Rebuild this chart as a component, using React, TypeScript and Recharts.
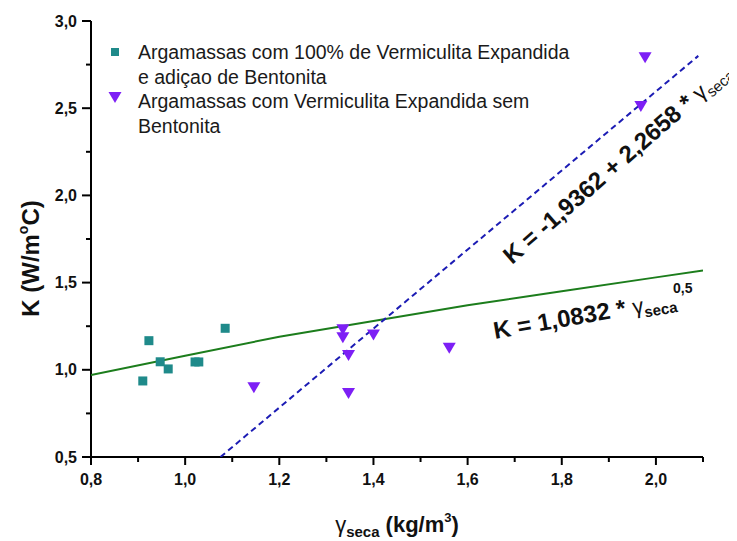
import React from 'react';
import { ScatterChart, Scatter, XAxis, YAxis, Legend } from 'recharts';

// measured points: dry density (kg/m3) vs thermal conductivity K (W/m°C)
const bentoniteX = [0.910, 0.923, 0.947, 0.964, 1.021, 1.029, 1.085];
const bentoniteK = [0.936, 1.167, 1.046, 1.005, 1.045, 1.045, 1.238];
const semX = [1.146, 1.335, 1.335, 1.347, 1.347, 1.400, 1.561, 1.968, 1.977];
const semK = [0.900, 1.232, 1.186, 1.085, 0.867, 1.202, 1.127, 2.513, 2.792];
// fitted curves
const powerFitX = [0.8, 1.0, 1.2, 1.4, 1.6, 1.8, 2.0, 2.1];
const powerFitK = [0.97, 1.08, 1.19, 1.28, 1.37, 1.45, 1.53, 1.57];
const linearFitX = [1.075, 2.09];
const linearFitK = [0.5, 2.8];
// axis ticks
const xTicks = [0.8, 0.9, 1.0, 1.1, 1.2, 1.3, 1.4, 1.5, 1.6, 1.7, 1.8, 1.9, 2.0, 2.1];
const xMajor = [0.8, 1.0, 1.2, 1.4, 1.6, 1.8, 2.0];
const yTicks = [0.5, 0.75, 1.0, 1.25, 1.5, 1.75, 2.0, 2.25, 2.5, 2.75, 3.0];
const yMajor = [0.5, 1.0, 1.5, 2.0, 2.5, 3.0];
const legendLines1 = ['Argamassas com 100% de Vermiculita Expandida', 'e adiçao de Bentonita'];
const legendLines2 = ['Argamassas com Vermiculita Expandida sem', 'Bentonita'];

const toData = (xs: number[], ks: number[]) => xs.map((x, i) => ({ x, k: ks[i] }));
const bentoniteData = toData(bentoniteX, bentoniteK);
const semData = toData(semX, semK);
const powerData = toData(powerFitX, powerFitK);
const linearData = toData(linearFitX, linearFitK);

const TEAL = '#1f8a8a';
const PURPLE = '#7d1ff5';
const GREEN = '#1c7d1c';
const BLUE = '#1c1cb4';
const FONT = '"Liberation Sans", Arial, sans-serif';
const TICKFONT = '"Liberation Sans Narrow", "Liberation Sans", Arial, sans-serif';

const isIn = (arr: number[], v: number) => arr.some((m) => Math.abs(m - v) < 1e-6);
const fmt = (v: number) => v.toFixed(1).replace('.', ',');

const XTick = (props: any) => {
  const { x, y, payload } = props;
  const v = payload.value;
  const major = isIn(xMajor, v);
  return (
    <g>
      <line x1={x} y1={y} x2={x} y2={y + (major ? 8 : 5)} stroke="#000" strokeWidth={2} />
      {major && (
        <text x={x} y={y + 28} textAnchor="middle" fontFamily={TICKFONT} fontWeight="bold" fontSize={16} fill="#111">
          {fmt(v)}
        </text>
      )}
    </g>
  );
};

const YTick = (props: any) => {
  const { x, y, payload } = props;
  const v = payload.value;
  const major = isIn(yMajor, v);
  return (
    <g>
      <line x1={x - (major ? 9 : 5)} y1={y} x2={x} y2={y} stroke="#000" strokeWidth={2} />
      {major && (
        <text x={x - 14} y={y + 5.5} textAnchor="end" fontFamily={TICKFONT} fontWeight="bold" fontSize={16} fill="#111">
          {fmt(v)}
        </text>
      )}
    </g>
  );
};

const SquareShape = (props: any) => {
  const { cx, cy } = props;
  return <rect x={cx - 4.5} y={cy - 4.5} width={9} height={9} fill={TEAL} />;
};

const TriangleShape = (props: any) => {
  const { cx, cy } = props;
  return <polygon points={`${cx - 6.5},${cy - 5} ${cx + 6.5},${cy - 5} ${cx},${cy + 6}`} fill={PURPLE} />;
};

const NoShape = () => <g />;

const LegendContent = () => (
  <div style={{ position: 'relative', width: 600, height: 110, fontFamily: FONT, fontSize: 19.5, color: '#1a1a1a' }}>
    <svg style={{ position: 'absolute', left: 0, top: 0 }} width={40} height={110}>
      <rect x={3} y={8} width={8} height={8} fill={TEAL} />
      <polygon points="0.5,52 13.5,52 7,63" fill={PURPLE} />
    </svg>
    <div style={{ position: 'absolute', left: 30, top: 0, lineHeight: '24.5px', whiteSpace: 'nowrap' }}>
      {legendLines1.map((t) => (
        <div key={t}>{t}</div>
      ))}
      {legendLines2.map((t) => (
        <div key={t}>{t}</div>
      ))}
    </div>
  </div>
);

export default function App() {
  return (
    <div style={{ width: 729, height: 533, position: 'relative' }}>
      <ScatterChart width={729} height={533} margin={{ top: 13, right: 34, bottom: 34, left: 23 }}>
        <XAxis
          type="number"
          dataKey="x"
          domain={[0.8, 2.1]}
          ticks={xTicks}
          interval={0}
          height={50}
          tickSize={0}
          tickMargin={0}
          tickLine={false}
          axisLine={{ stroke: '#000', strokeWidth: 2 }}
          tick={<XTick />}
          allowDataOverflow
        />
        <YAxis
          type="number"
          dataKey="k"
          domain={[0.5, 3.0]}
          ticks={yTicks}
          interval={0}
          width={60}
          tickSize={0}
          tickMargin={0}
          tickLine={false}
          axisLine={{ stroke: '#000', strokeWidth: 2 }}
          tick={<YTick />}
          allowDataOverflow
        />
        <Legend
          verticalAlign="middle"
          layout="horizontal"
          wrapperStyle={{ left: 100, top: 32, width: 600, height: 110 }}
          content={() => <LegendContent />}
        />
        <Scatter
          name="power fit"
          data={powerData}
          line={{ stroke: GREEN, strokeWidth: 2 }}
          shape={NoShape}
          legendType="none"
          isAnimationActive={false}
        />
        <Scatter
          name="linear fit"
          data={linearData}
          line={{ stroke: BLUE, strokeWidth: 2, strokeDasharray: '6 4' }}
          shape={NoShape}
          legendType="none"
          isAnimationActive={false}
        />
        <Scatter name="Argamassas com 100% de Vermiculita Expandida e adiçao de Bentonita" data={bentoniteData} shape={SquareShape} isAnimationActive={false} />
        <Scatter name="Argamassas com Vermiculita Expandida sem Bentonita" data={semData} shape={TriangleShape} isAnimationActive={false} />

        <g>
          <text
            x={30.5}
            y={250.5}
            transform="rotate(-90 30.5 250.5)"
            textAnchor="middle"
            fontFamily={FONT}
            fontWeight="bold"
            fontSize={24}
            fill="#111"
          >
            K (W/m
            <tspan fontSize={14} dy={-11}>o</tspan>
            <tspan dy={11}>C)</tspan>
          </text>
          <text x={389} y={524} textAnchor="middle" fontFamily={FONT} fill="#111">
            <tspan fontSize={22}>γ</tspan>
            <tspan fontSize={15} fontWeight="bold" dy={5}>seca</tspan>
            <tspan fontSize={22} fontWeight="bold" dy={-5}> (kg/m</tspan>
            <tspan fontSize={13} fontWeight="bold" dy={-10}>3</tspan>
            <tspan fontSize={22} fontWeight="bold" dy={10}>)</tspan>
          </text>
          <text
            x={504}
            y={257}
            transform="rotate(-41 504 257)"
            fontFamily={FONT}
            fill="#111"
          >
            <tspan fontSize={24} fontWeight="bold">K = -1,9362 + 2,2658 * </tspan>
            <tspan fontSize={22}>γ</tspan>
            <tspan fontSize={15} dy={5}>seca</tspan>
          </text>
          <text
            x={487}
            y={331}
            transform="rotate(-10 487 331)"
            fontFamily={FONT}
            fill="#111"
          >
            <tspan fontSize={24} fontWeight="bold">K = 1,0832 * </tspan>
            <tspan fontSize={22}>γ</tspan>
            <tspan fontSize={15} fontWeight="bold" dy={5}>seca</tspan>
          </text>
          <text x={665} y={285} fontFamily={FONT} fontWeight="bold" fontSize={14} fill="#111">
            0,5
          </text>
        </g>
      </ScatterChart>
    </div>
  );
}
